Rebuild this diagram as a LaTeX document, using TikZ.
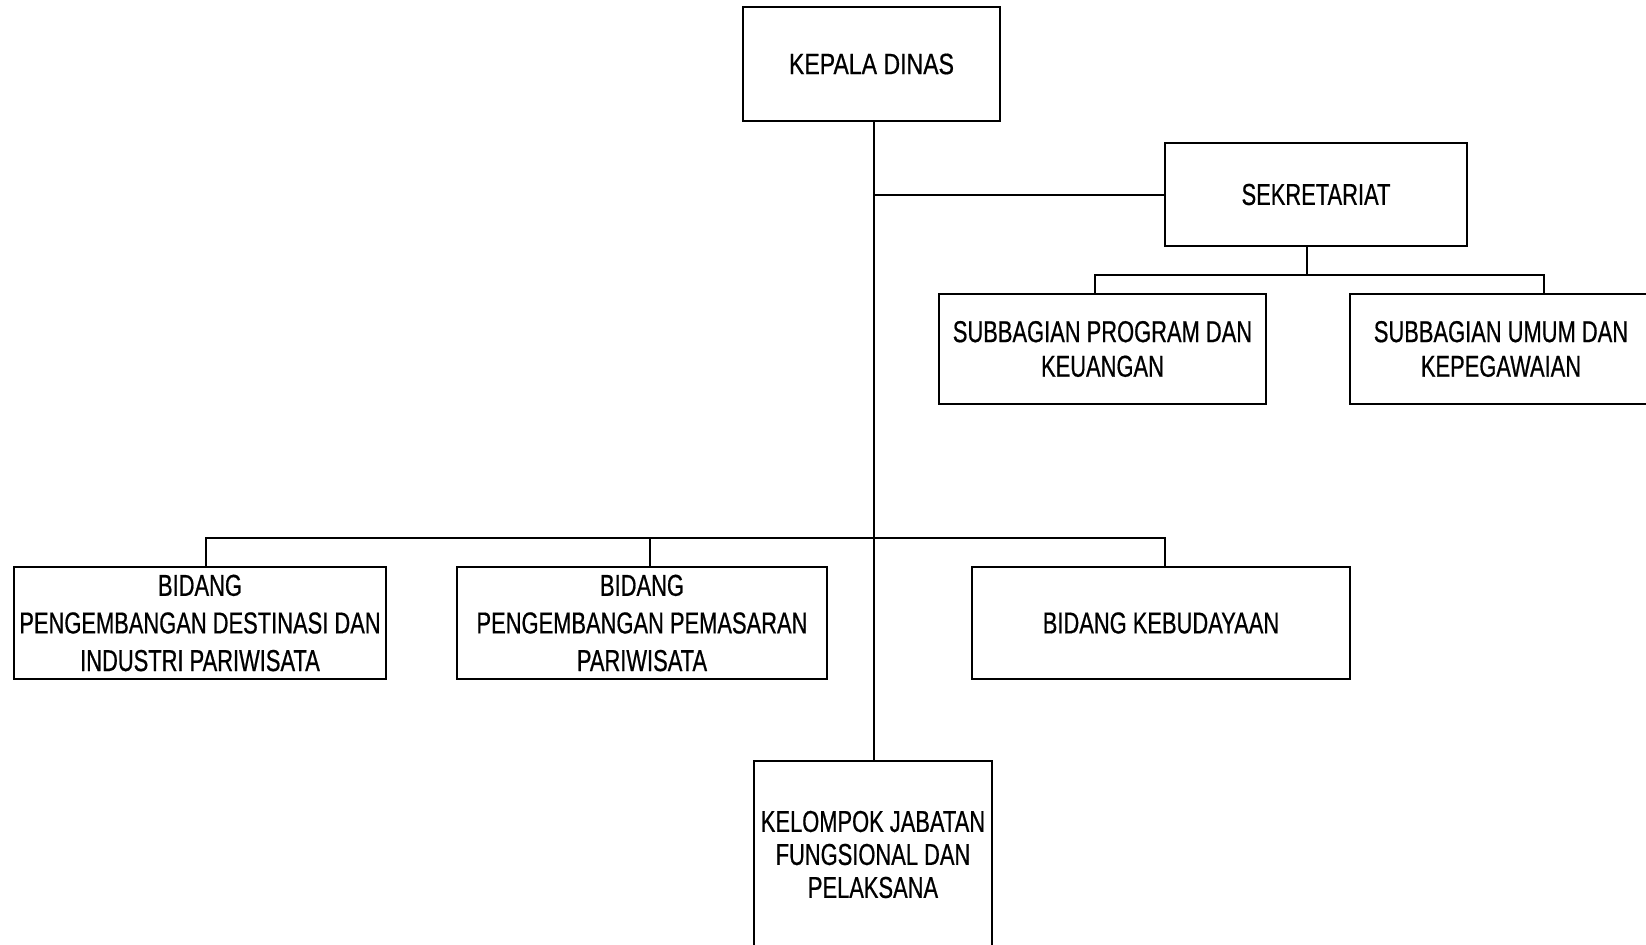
\documentclass[tikz,border=0pt]{standalone}
\usepackage{fontspec}
\setmainfont[FakeStretch=0.725,FakeBold=0.6]{Liberation Sans}
\newfontfamily\kdfont[FakeStretch=0.785,FakeBold=0.6]{Liberation Sans}
\begin{document}
\begin{tikzpicture}[x=0.5pt,y=-0.5pt,
  box/.style={draw, line width=1pt, rectangle, inner sep=0pt, align=center,
    font=\fontsize{15.1}{18.8}\selectfont},
  conn/.style={line width=1pt}]
\useasboundingbox (0,0) rectangle (1646,944);
\clip (0,0) rectangle (1646,944);
% boxes
\node[box, minimum width=128.5pt, minimum height=57pt, font=\kdfont\fontsize{14.7}{18}\selectfont] (kd) at (871.5,64) {KEPALA DINAS};
\node[box, minimum width=151pt, minimum height=51.5pt] (sek) at (1316,194.5) {SEKRETARIAT};
\node[box, minimum width=163.5pt, minimum height=55pt, font=\fontsize{15.1}{17.3}\selectfont] (sp) at (1102.5,349) {SUBBAGIAN PROGRAM DAN\\KEUANGAN};
\node[box, minimum width=151pt, minimum height=55pt, font=\fontsize{15.1}{17.3}\selectfont] (su) at (1501,349) {SUBBAGIAN UMUM DAN\\KEPEGAWAIAN};
\node[box, minimum width=186pt, minimum height=56pt] (bd) at (200,623) {BIDANG\\PENGEMBANGAN DESTINASI DAN\\INDUSTRI PARIWISATA};
\node[box, minimum width=185pt, minimum height=56pt] (bp) at (642,623) {BIDANG\\PENGEMBANGAN PEMASARAN\\PARIWISATA};
\node[box, minimum width=189pt, minimum height=56pt] (bk) at (1161,623) {BIDANG KEBUDAYAAN};
\node[box, minimum width=119pt, minimum height=93.5pt, font=\fontsize{15.1}{16.5}\selectfont] (kel) at (873,854.5) {KELOMPOK JABATAN\\FUNGSIONAL DAN\\PELAKSANA};
% helper coordinates
\coordinate (t) at (874,0);
\coordinate (sd) at (1307,275);
\coordinate (bl) at (1095,275);
\coordinate (br) at (1544,275);
\coordinate (c1) at (206,538);
\coordinate (c2) at (650,538);
\coordinate (c3) at (1165,538);
% connectors
\draw[conn] (kd.south -| t) -- (kel.north -| t);
\draw[conn] (sek.west -| t) -- (sek.west);
\draw[conn] (sek.south -| sd) -- (sd);
\draw[conn] (sp.north -| bl) -- (bl) -- (br) -- (su.north -| br);
\draw[conn] (bd.north -| c1) -- (c1) -- (c3) -- (bk.north -| c3);
\draw[conn] (c2) -- (bp.north -| c2);
\end{tikzpicture}
\end{document}
